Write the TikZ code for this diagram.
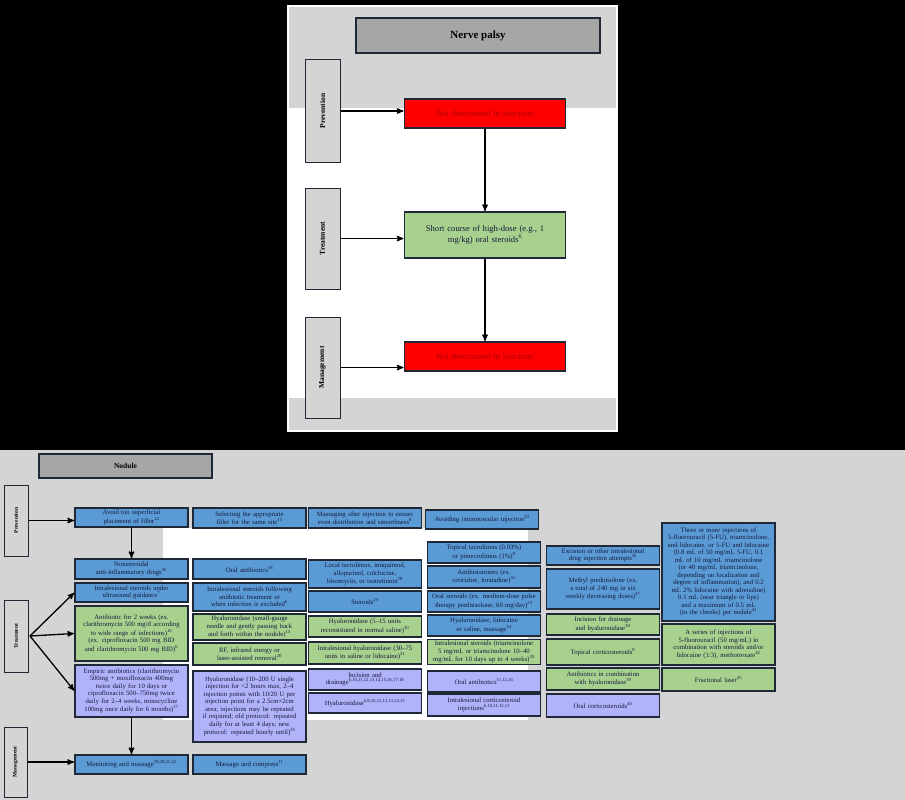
\documentclass[tikz,border=0pt]{standalone}
\usepackage{fontspec}
\setmainfont{Liberation Serif}
\usepackage{tikz}
\usetikzlibrary{arrows}
\hyphenpenalty=10000
\exhyphenpenalty=10000

\definecolor{edge}{RGB}{30,40,55}
\definecolor{ink}{RGB}{20,25,60}
\definecolor{dotgray}{RGB}{212,212,212}
\definecolor{headgray}{RGB}{166,166,166}
\definecolor{cellblue}{RGB}{91,155,213}
\definecolor{cellgreen}{RGB}{169,209,142}
\definecolor{celllav}{RGB}{178,178,250}
\definecolor{cellred}{RGB}{255,0,0}
\definecolor{redink}{RGB}{170,0,0}

\begin{document}
\begin{tikzpicture}[x=1pt,y=-1pt,>=stealth',shorten >=0.5pt,thick]
          \tikzstyle{cell}=[draw=edge,line width=1.1pt,inner sep=1pt,align=center,text=ink,
                            font=\fontsize{6.7}{7.5}\selectfont]
          \tikzstyle{col}=[cell,minimum width=113pt,text width=105pt]
          \tikzstyle{bluecell}=[col,fill=cellblue]
          \tikzstyle{greencell}=[col,fill=cellgreen]
          \tikzstyle{lavcell}=[col,fill=celllav]
          \tikzstyle{side}=[draw=edge,line width=1pt,fill=dotgray,inner sep=0pt,font=\bfseries]
          \tikzstyle{head}=[draw=edge,line width=1.4pt,fill=headgray,font=\bfseries]
          \tikzstyle{bigcell}=[draw=edge,line width=1.1pt,minimum width=161pt,text width=156pt,
                               align=center,inner sep=1pt,font=\fontsize{8.6}{10.5}\selectfont]
          \tikzstyle{link}=[->,draw=black,line width=1.3pt]

          \useasboundingbox (0,0) rectangle (905,800);
          \fill[black] (0,0) rectangle (905,450);
          \fill[dotgray] (0,450) rectangle (905,800);
          \fill[white] (287,5) rectangle (618,432);
          \fill[dotgray] (289,7) rectangle (616,108);
          \fill[dotgray] (289,398) rectangle (616,430);
          \fill[white] (163,528) rectangle (528,720);

          \node[head,minimum width=244pt,minimum height=35pt,font=\bfseries\fontsize{11}{13}\selectfont]
                (np) at (478,35.5) {Nerve palsy};
          \node[side,minimum width=35pt,minimum height=102pt,font=\bfseries\fontsize{7.5}{9}\selectfont]
                (npPrev) at (322.5,111) {\rotatebox{90}{Prevention}};
          \node[side,minimum width=35pt,minimum height=101pt,font=\bfseries\fontsize{7.5}{9}\selectfont]
                (npTreat) at (322.5,238.5) {\rotatebox{90}{Treatment}};
          \node[side,minimum width=35pt,minimum height=101pt,font=\bfseries\fontsize{7.5}{9}\selectfont]
                (npMan) at (322.5,367.5) {\rotatebox{90}{Management}};

          \node[bigcell,fill=cellred,text=redink,minimum height=29pt] (npA) at (485,113.5)
                {Not determined in literature};
          \node[bigcell,fill=cellgreen,text=ink,minimum height=46pt] (npB) at (485,235)
                {Short course of high-dose (e.g., 1\\ mg/kg) oral steroids\textsuperscript{6}};
          \node[bigcell,fill=cellred,text=redink,minimum height=29pt] (npC) at (485,356.5)
                {Not determined in literature};

          \draw[link] (npPrev.east) -- (npPrev.east -| npA.west);
          \draw[link] (npTreat.east) -- (npTreat.east -| npB.west);
          \draw[link] (npMan.east) -- (npMan.east -| npC.west);
          \draw[link] (npA) -- (npB);
          \draw[link] (npB) -- (npC);

          \node[head,minimum width=173pt,minimum height=24pt,font=\bfseries\fontsize{7.5}{9}\selectfont]
                (nod) at (125.5,466) {Nodule};
          \node[side,minimum width=24pt,minimum height=71pt,font=\bfseries\fontsize{5.5}{7}\selectfont]
                (nPrev) at (16,520.5) {\rotatebox{90}{Prevention}};
          \node[side,minimum width=24pt,minimum height=72pt,font=\bfseries\fontsize{5.5}{7}\selectfont]
                (nTreat) at (16,636) {\rotatebox{90}{Treatment}};
          \node[side,minimum width=23pt,minimum height=70pt,font=\bfseries\fontsize{5.5}{7}\selectfont]
                (nMan) at (15.5,762) {\rotatebox{90}{Management}};

          \node[bluecell,minimum height=19pt] (p1) at (131.5,517.5)
                {Avoid too superficial placement of filler\textsuperscript{12}};
          \node[bluecell,minimum height=20pt] (t1a) at (131.5,569)
                {Nonsteroidal anti-inflammatory drugs\textsuperscript{26}};
          \node[bluecell,minimum height=19pt] (t1b) at (131.5,592.5)
                {Intralesional steroids under ultrasound guidance\textsuperscript{7}};
          \node[greencell,minimum height=55pt] (t1c) at (131.5,633.5)
                {Antibiotic for 2 weeks (ex. clarithromycin 500 mg/d according to wide range of infections)\textsuperscript{16} (ex. ciprofloxacin 500 mg BID and clarithromycin 500 mg BID)\textsuperscript{6}};
          \node[lavcell,minimum height=52pt] (t1d) at (131.5,691)
                {Empiric antibiotics (clarithromycin 500mg + moxifloxacin 400mg twice daily for 10 days or ciprofloxacin 500--750mg twice daily for 2--4 weeks, minocycline 100mg once daily for 6 months)\textsuperscript{17}};
          \node[bluecell,minimum height=19pt] (m1) at (131.5,764.5)
                {Monitoring and massage\textsuperscript{19,20,21,22}};

          \node[bluecell,minimum height=20pt] (p2) at (249.5,518)
                {Selecting the appropriate filler for the same site\textsuperscript{15}};
          \node[bluecell,minimum height=20pt] (t2a) at (249.5,569)
                {Oral antibiotics\textsuperscript{18}};
          \node[bluecell,minimum height=28pt] (t2b) at (249.5,597)
                {Intralesional steroids following antibiotic treatment or when infection is excluded\textsuperscript{6}};
          \node[greencell,minimum height=26pt] (t2c) at (249.5,627)
                {Hyaluronidase (small-gauge needle and gently passing back and forth within the nodule)\textsuperscript{13}};
          \node[greencell,minimum height=22pt] (t2d) at (249.5,654)
                {RF, infrared energy or laser-assisted removal\textsuperscript{20}};
          \node[lavcell,minimum height=71pt] (t2e) at (249.5,706.5)
                {Hyaluronidase (10--200 U single injection for <2 hours max, 2--4 injection points with 10/20 U per injection point for a 2.5cm×2cm area; injections may be repeated if required; old protocol: repeated daily for at least 4 days; new protocol: repeated hourly until)\textsuperscript{25}};
          \node[bluecell,minimum height=19pt] (m2) at (249.5,764.5)
                {Massage and compress\textsuperscript{11}};

          \node[bluecell,minimum height=20pt] (p3) at (365,518)
                {Massaging after injection to ensure even distribution and smoothness\textsuperscript{8}};
          \node[bluecell,minimum height=28pt] (t3a) at (365,574)
                {Local tacrolimus, imiquimod, allopurinol, colchicine, bleomycin, or isotretinoin\textsuperscript{28}};
          \node[bluecell,minimum height=21pt] (t3b) at (365,601.5)
                {Steroids\textsuperscript{29}};
          \node[greencell,minimum height=21pt] (t3c) at (365,626.5)
                {Hyaluronidase (5--15 units reconstituted in normal saline)\textsuperscript{30}};
          \node[greencell,minimum height=22pt] (t3d) at (365,653)
                {Intralesional hyaluronidase (30--75 units in saline or lidocaine)\textsuperscript{31}};
          \node[lavcell,minimum height=21pt] (t3e) at (365,679.5)
                {Incision and drainage\textsuperscript{6,10,11,12,13,14,15,16,17,18}};
          \node[lavcell,minimum height=20pt] (t3f) at (365,703)
                {Hyaluronidase\textsuperscript{6,8,10,11,12,13,14,15}};

          \node[bluecell,minimum height=19pt] (p4) at (482,519.5)
                {Avoiding intramuscular injection\textsuperscript{20}};
          \node[bluecell,minimum height=21pt] (t4a) at (484,552.5)
                {Topical tacrolimus (0.03\%) or pimecrolimus (1\%)\textsuperscript{8}};
          \node[bluecell,minimum height=22pt] (t4b) at (484,577)
                {Antihistamines (ex. cetirizine, loratadine)\textsuperscript{32}};
          \node[bluecell,minimum height=21pt] (t4c) at (484,601.5)
                {Oral steroids (ex. medium-dose pulse therapy prednisolone, 60 mg/day)\textsuperscript{33}};
          \node[bluecell,minimum height=21pt] (t4d) at (484,625.5)
                {Hyaluronidase, lidocaine or saline, massage\textsuperscript{34}};
          \node[greencell,minimum height=24pt] (t4e) at (484,652)
                {Intralesional steroids (triamcinolone 5 mg/mL or triamcinolone 10--40 mg/mL for 10 days up to 4 weeks)\textsuperscript{35}};
          \node[lavcell,minimum height=21pt] (t4f) at (484,681.5)
                {Oral antibiotics\textsuperscript{11,12,16}};
          \node[lavcell,minimum height=22pt] (t4g) at (484,705)
                {Intralesional corticosteroid injections\textsuperscript{6,10,11,12,13}};

          \node[bluecell,minimum height=19pt] (t5a) at (603,555.5)
                {Excision or other intralesional drug injection attempts\textsuperscript{36}};
          \node[bluecell,minimum height=40pt] (t5b) at (603,589)
                {Methyl prednisolone (ex. a total of 240 mg in six weekly decreasing doses)\textsuperscript{37}};
          \node[greencell,minimum height=21pt] (t5c) at (603,624.5)
                {Incision for drainage and hyaluronidase\textsuperscript{38}};
          \node[greencell,minimum height=26pt] (t5d) at (603,652)
                {Topical corticosteroids\textsuperscript{8}};
          \node[greencell,minimum height=22pt] (t5e) at (603,679)
                {Antibiotics in combination with hyaluronidase\textsuperscript{39}};
          \node[lavcell,minimum height=23pt] (t5f) at (603,705.5)
                {Oral corticosteroids\textsuperscript{40}};

          \node[bluecell,minimum height=98pt] (t6a) at (718.5,572)
                {Three or more injections of 5-fluorouracil (5-FU), triamcinolone, and lidocaine, or 5-FU and lidocaine (0.8 mL of 50 mg/mL 5-FU, 0.1 mL of 10 mg/mL triamcinolone (or 40 mg/mL triamcinolone, depending on localization and degree of inflammation), and 0.2 mL 2\% lidocaine with adrenaline) 0.1 mL (near triangle or lips) and a maximum of 0.5 mL (in the cheeks) per nodule\textsuperscript{41}};
          \node[greencell,minimum height=41pt] (t6b) at (718.5,644.5)
                {A series of injections of 5-fluorouracil (50 mg/mL) in combination with steroids and/or lidocaine (1:3), methotrexate\textsuperscript{42}};
          \node[greencell,minimum height=23pt] (t6c) at (718.5,679.5)
                {Fractional laser\textsuperscript{43}};

          \coordinate (fork) at (30,636);
          \draw[link] (nPrev.east) -- (nPrev.east -| p1.west);
          \draw[link] (p1) -- (t1a);
          \draw[link] (fork) -- (t1b.west);
          \draw[link] (fork) -- (t1c.west);
          \draw[link] (fork) -- (t1d.west);
          \draw[link] (t1d) -- (m1);
          \draw[link] (nMan.east) -- (nMan.east -| m1.west);

        \end{tikzpicture}
\end{document}
